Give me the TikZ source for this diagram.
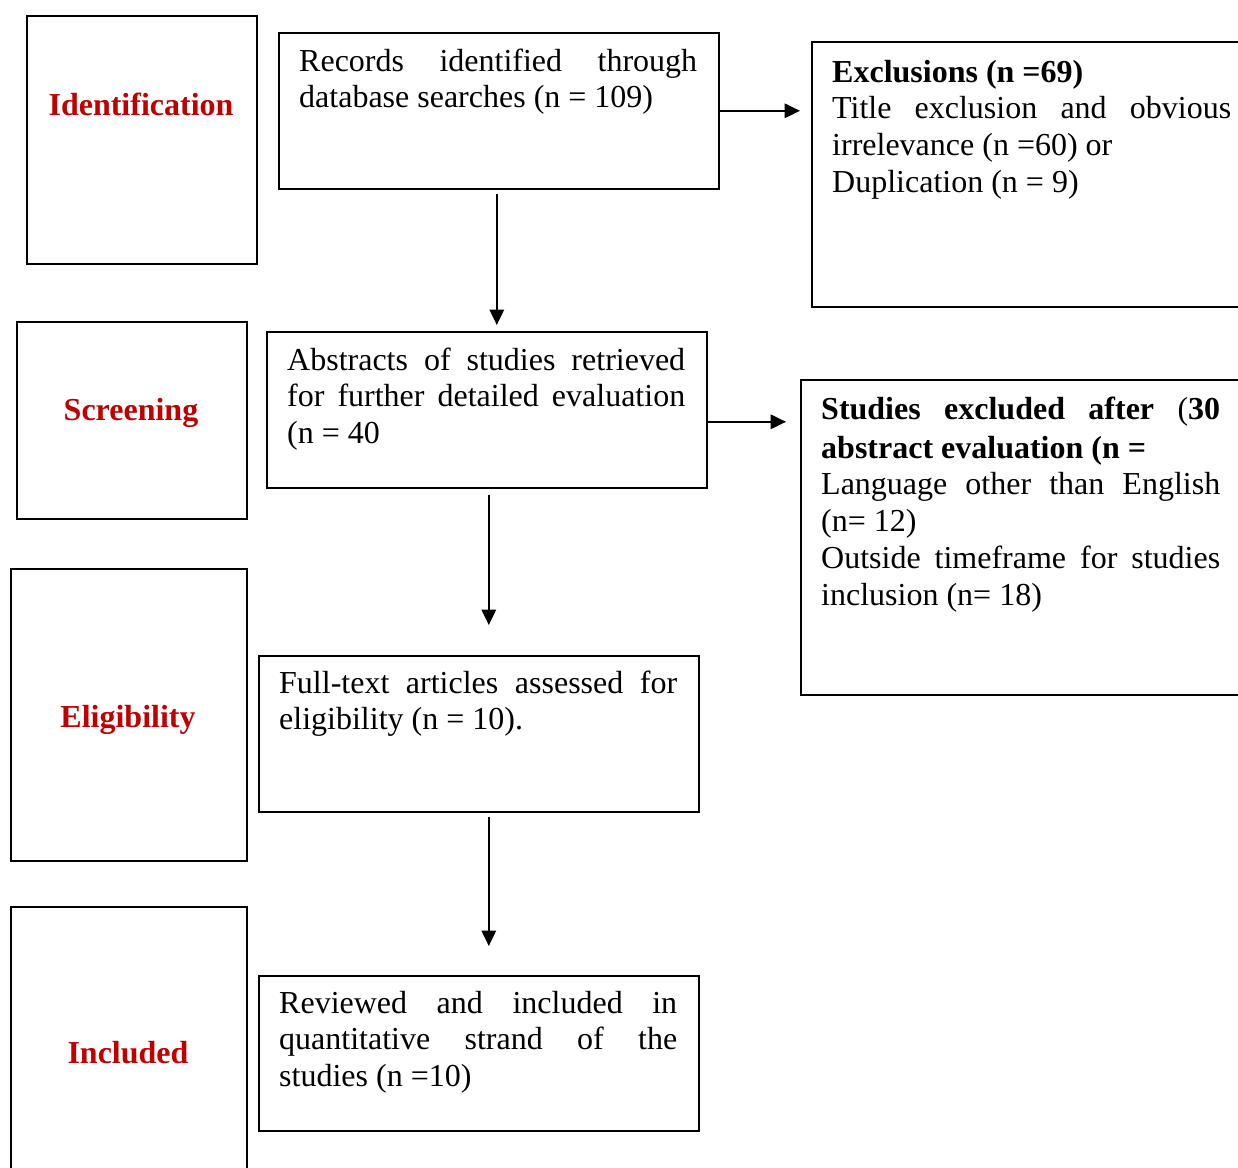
\documentclass[tikz,border=0pt]{standalone}
\usepackage{fontspec}
\setmainfont{Liberation Serif}
\usetikzlibrary{arrows.meta}
\definecolor{lblred}{RGB}{192,0,0}
\newcommand{\jl}[1]{\makebox[\linewidth][s]{#1}\par}
\tikzset{
  box/.style={draw=black, line width=1.6pt, inner sep=0pt, anchor=north west},
  txt/.style={inner sep=0pt, anchor=base west, font=\fontsize{32}{36.7}\selectfont},
  lbl/.style={inner sep=0pt, anchor=base, text=lblred, font=\fontsize{32}{36.7}\selectfont\bfseries},
  arr/.style={draw=black, line width=2pt, -{Triangle[length=15.5pt,width=14.5pt]}}
}
\begin{document}
\begin{tikzpicture}[x=1pt,y=-1pt]
\useasboundingbox (0,0) rectangle (1238,1167);
\clip (0,0) rectangle (1238,1167);

% stage boxes
\node[box, minimum width=230pt, minimum height=248pt] (idbox) at (26,15) {};
\node[box, minimum width=230pt, minimum height=197pt] (scrbox) at (16,321) {};
\node[box, minimum width=236pt, minimum height=292pt] (elbox) at (10,568) {};
\node[box, minimum width=236pt, minimum height=300pt] (inbox) at (10,906) {};

\node[lbl] (lid) at (141,115) {Identification};
\node[lbl] (lscr) at (131,420) {Screening};
\node[lbl] (lel) at (128,727) {Eligibility};
\node[lbl] (lin) at (128,1063) {Included};

% flow boxes
\node[box, minimum width=440pt, minimum height=156pt] (rec) at (278,32) {};
\node[box, minimum width=440pt, minimum height=156pt] (abs) at (266,331) {};
\node[box, minimum width=440pt, minimum height=156pt] (full) at (258,655) {};
\node[box, minimum width=440pt, minimum height=155pt] (rev) at (258,975) {};
\node[box, minimum width=445pt, minimum height=265pt] (excl) at (811,41) {};
\node[box, minimum width=445pt, minimum height=315pt] (stex) at (800,379) {};

% texts
\node[txt] (rectxt) at (299,71) {\parbox[t]{398pt}{\jl{Records identified through}database searches (n = 109)}};
\node[txt] (abstxt) at (287,370) {\parbox[t]{398pt}{\jl{Abstracts of studies retrieved}\jl{for further detailed evaluation}(n = 40}};
\node[txt] (fulltxt) at (279,693) {\parbox[t]{398pt}{\jl{Full-text articles assessed for}eligibility (n = 10).}};
\node[txt] (revtxt) at (279,1013) {\parbox[t]{398pt}{\jl{Reviewed and included in}\jl{quantitative strand of the}studies (n =10)}};
\node[txt] (excltxt) at (832,82) {\parbox[t]{399pt}{\textbf{Exclusions (n =69)}\par\jl{Title exclusion and obvious}irrelevance (n =60) or\par Duplication (n = 9)}};
\node[txt] (stextxt) at (821,419) {\parbox[t]{399pt}{\jl{\textbf{Studies excluded after} (\textbf{30}}\vspace{2.5pt}\textbf{abstract evaluation (n =}\par\jl{Language other than English}(n= 12)\par\jl{Outside timeframe for studies}inclusion (n= 18)}};

% connectors
\draw[arr, shorten >=11pt] (rec.east) -- (excl.west |- rec.east);
\coordinate (a2) at ([yshift=-12pt]abs.east);
\draw[arr, shorten >=14pt] (a2) -- (stex.west |- a2);
\coordinate (d1) at ([xshift=-2pt]rec.south);
\draw[arr, shorten <=4pt, shorten >=6pt] (d1) -- (d1 |- abs.north);
\coordinate (d2) at ([xshift=2pt]abs.south);
\draw[arr, shorten <=6pt, shorten >=30pt] (d2) -- (d2 |- full.north);
\coordinate (d3) at ([xshift=10pt]full.south);
\draw[arr, shorten <=4pt, shorten >=29pt] (d3) -- (d3 |- rev.north);
\end{tikzpicture}
\end{document}
